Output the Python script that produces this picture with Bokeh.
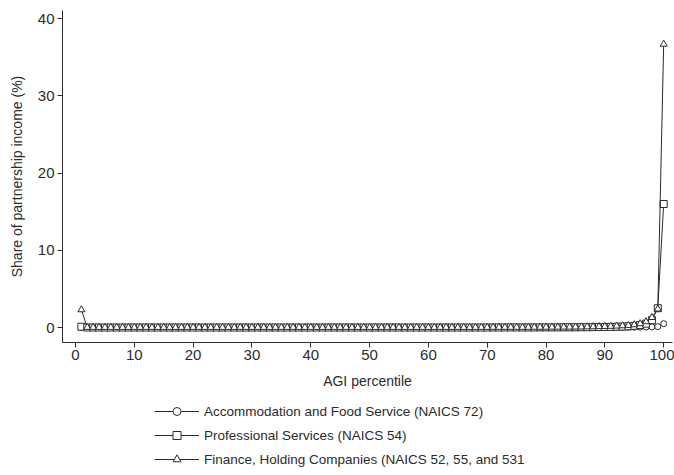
from bokeh.plotting import figure
from bokeh.models import Range1d, FixedTicker, Legend, LegendItem
from bokeh.layouts import column
from bokeh.embed import file_html
from bokeh.resources import INLINE

percentile = list(range(1, 101))

accommodation = [
    0.00, 0.00, 0.00, 0.00, 0.00, 0.00, 0.00, 0.00, 0.00, 0.00,
    0.00, 0.00, 0.00, 0.00, 0.00, 0.00, 0.00, 0.00, 0.00, 0.00,
    0.00, 0.00, 0.00, 0.00, 0.00, 0.00, 0.00, 0.00, 0.00, 0.00,
    0.00, 0.00, 0.00, 0.00, 0.00, 0.00, 0.00, 0.00, 0.00, 0.00,
    0.00, 0.00, 0.00, 0.00, 0.00, 0.00, 0.00, 0.00, 0.00, 0.00,
    0.00, 0.00, 0.00, 0.00, 0.00, 0.00, 0.00, 0.00, 0.00, 0.00,
    0.00, 0.00, 0.00, 0.00, 0.00, 0.00, 0.00, 0.00, 0.00, 0.00,
    0.00, 0.00, 0.00, 0.00, 0.00, 0.00, 0.00, 0.00, 0.00, 0.00,
    0.00, 0.00, 0.00, 0.00, 0.00, 0.01, 0.01, 0.01, 0.01, 0.02,
    0.02, 0.02, 0.03, 0.03, 0.04, 0.05, 0.06, 0.08, 0.12, 0.50,
]

professional = [
    0.10, 0.00, 0.00, 0.00, 0.00, 0.00, 0.00, 0.00, 0.00, 0.00,
    0.00, 0.00, 0.00, 0.00, 0.00, 0.00, 0.00, 0.00, 0.00, 0.00,
    0.00, 0.00, 0.00, 0.00, 0.00, 0.00, 0.00, 0.00, 0.00, 0.00,
    0.00, 0.00, 0.00, 0.00, 0.00, 0.00, 0.00, 0.00, 0.00, 0.00,
    0.00, 0.00, 0.00, 0.00, 0.00, 0.00, 0.00, 0.00, 0.00, 0.00,
    0.00, 0.00, 0.00, 0.00, 0.00, 0.00, 0.00, 0.00, 0.00, 0.00,
    0.00, 0.00, 0.00, 0.00, 0.00, 0.00, 0.00, 0.00, 0.00, 0.00,
    0.01, 0.01, 0.01, 0.01, 0.01, 0.01, 0.01, 0.01, 0.02, 0.02,
    0.02, 0.02, 0.03, 0.03, 0.03, 0.04, 0.04, 0.05, 0.06, 0.07,
    0.08, 0.10, 0.12, 0.16, 0.22, 0.32, 0.50, 0.95, 2.50, 16.00,
]

finance = [
    2.30, 0.02, 0.02, 0.02, 0.02, 0.02, 0.02, 0.02, 0.02, 0.02,
    0.02, 0.02, 0.02, 0.02, 0.02, 0.02, 0.02, 0.02, 0.02, 0.02,
    0.02, 0.02, 0.02, 0.02, 0.02, 0.02, 0.02, 0.02, 0.02, 0.02,
    0.02, 0.02, 0.02, 0.02, 0.02, 0.02, 0.02, 0.02, 0.02, 0.02,
    0.02, 0.02, 0.02, 0.02, 0.02, 0.02, 0.02, 0.02, 0.02, 0.02,
    0.02, 0.02, 0.02, 0.02, 0.02, 0.02, 0.02, 0.02, 0.02, 0.02,
    0.02, 0.02, 0.02, 0.02, 0.02, 0.02, 0.02, 0.02, 0.02, 0.02,
    0.03, 0.03, 0.03, 0.03, 0.03, 0.03, 0.03, 0.04, 0.04, 0.04,
    0.05, 0.05, 0.06, 0.06, 0.07, 0.08, 0.09, 0.10, 0.12, 0.14,
    0.16, 0.19, 0.23, 0.28, 0.36, 0.50, 0.75, 1.30, 2.40, 36.70,
]

labels = [
    "Accommodation and Food Service (NAICS 72)",
    "Professional Services (NAICS 54)",
    "Finance, Holding Companies (NAICS 52, 55, and 531",
]
x_ticks = [0, 10, 20, 30, 40, 50, 60, 70, 80, 90, 100]
y_ticks = [0, 10, 20, 30, 40]

INK = "#2b2b2b"
FONT = "Liberation Sans"

p = figure(
    width=674, height=400,
    output_backend="svg", toolbar_location=None,
    x_range=Range1d(-2.21, 101.5), y_range=Range1d(-1.94, 41.06),
    min_border_left=62, min_border_right=2, min_border_top=10, min_border_bottom=58,
)
p.outline_line_color = None
p.xgrid.visible = False
p.ygrid.visible = False
p.background_fill_color = "white"
p.border_fill_color = "white"

for ax in (p.xaxis[0], p.yaxis[0]):
    ax.axis_line_color = INK
    ax.major_tick_line_color = INK
    ax.minor_tick_line_color = None
    ax.major_tick_out = 5
    ax.major_tick_in = 0
    ax.major_label_text_font = FONT
    ax.major_label_text_font_size = "15px"
    ax.major_label_text_color = INK
    ax.axis_label_text_font = FONT
    ax.axis_label_text_font_size = "14px"
    ax.axis_label_text_font_style = "normal"
    ax.axis_label_text_color = INK

p.xaxis.ticker = FixedTicker(ticks=x_ticks)
p.yaxis.ticker = FixedTicker(ticks=y_ticks)
p.xaxis.major_label_standoff = 2
p.yaxis.major_label_standoff = 3
p.xaxis.axis_label = "AGI percentile"
p.yaxis.axis_label = "Share of partnership income (%)"
p.xaxis.axis_label_standoff = 10
p.yaxis.axis_label_standoff = 10

series = [accommodation, professional, finance]
markers = ["circle", "square", "triangle"]
sizes = [6, 7, 7]

# legend strip below the plot
q = figure(
    width=674, height=75,
    output_backend="svg", toolbar_location=None,
    x_range=Range1d(-1000, -999), y_range=Range1d(-1000, -999),
    min_border_left=0, min_border_right=0, min_border_top=0, min_border_bottom=0,
    x_axis_location=None, y_axis_location=None,
)
q.outline_line_color = None
q.xgrid.visible = False
q.ygrid.visible = False

items = []
for vals, mk, sz, lab in zip(series, markers, sizes, labels):
    p.line(percentile, vals, line_color=INK, line_width=1)
    p.scatter(percentile, vals, marker=mk, size=sz,
              fill_color="white", line_color=INK, line_width=1)
    ln = q.line(percentile, vals, line_color=INK, line_width=1)
    sc = q.scatter(percentile, vals, marker=mk, size=sz,
                   fill_color="white", line_color=INK, line_width=1)
    items.append(LegendItem(label=lab, renderers=[ln, sc]))

legend = Legend(
    items=items, location=(92, 6),
    glyph_width=45, glyph_height=20, label_height=20,
    spacing=4, padding=0, margin=0, label_standoff=5,
    label_text_font=FONT, label_text_font_size="13.5px",
    label_text_color=INK,
    border_line_color=None, background_fill_alpha=0,
)
q.add_layout(legend, "center")

layout = column(p, q, spacing=0)
open("out.html", "w").write(file_html(layout, INLINE))
